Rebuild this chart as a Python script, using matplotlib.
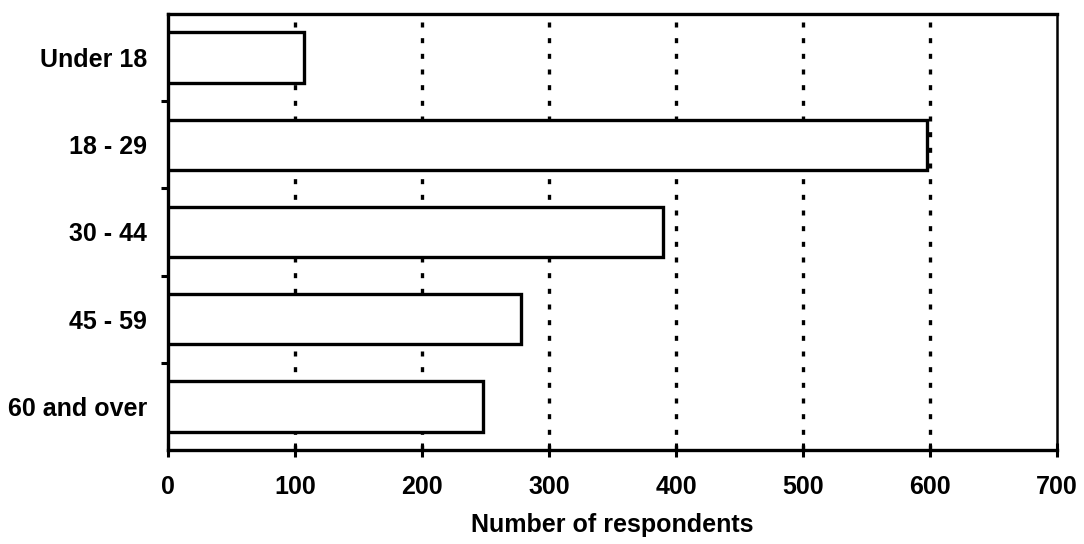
import matplotlib
matplotlib.use("Agg")
import matplotlib.pyplot as plt
from matplotlib.ticker import FixedLocator, NullFormatter

categories = ["Under 18", "18 - 29", "30 - 44", "45 - 59", "60 and over"]
values = [107, 598, 390, 278, 248]
x_ticks = [0, 100, 200, 300, 400, 500, 600, 700]
x_label = "Number of respondents"

plt.rcParams['font.family'] = ['Liberation Sans', 'DejaVu Sans']
plt.rcParams['font.weight'] = 'bold'
FS = 18

fig = plt.figure(figsize=(10.84, 5.44), dpi=100)
ax = fig.add_axes([168/1084, 1-450/544, (1057-168)/1084, (450-14)/544])

pos = list(range(len(categories)))
ax.barh(pos, values, height=0.58, color='white', edgecolor='black',
        linewidth=2.4, zorder=3)

ax.set_xlim(x_ticks[0], x_ticks[-1])
ax.set_ylim(len(categories) - 0.5, -0.5)

# dotted vertical gridlines
for xv in x_ticks[1:-1]:
    ax.axvline(xv, color='black', linewidth=2.4, linestyle=(0, (1.5, 3.2)), zorder=1)

ax.set_xticks(x_ticks)
ax.set_xticklabels([str(v) for v in x_ticks], fontsize=FS, fontweight='bold')
ax.tick_params(axis='x', direction='inout', length=10, width=2.2, pad=13)

ax.yaxis.set_major_locator(FixedLocator([p + 0.5 for p in pos[:-1]]))
ax.yaxis.set_major_formatter(NullFormatter())
ax.yaxis.set_minor_locator(FixedLocator(pos))
ax.set_yticks(pos, minor=True)
ax.set_yticklabels(categories, minor=True, fontsize=FS, fontweight='bold')
ax.tick_params(axis='y', which='major', direction='out', length=5, width=2.2)
ax.tick_params(axis='y', which='minor', length=0, pad=15)

for s in ['left', 'bottom', 'top']:
    ax.spines[s].set_linewidth(2.4)
ax.spines['right'].set_linewidth(1.8)

ax.set_xlabel(x_label, fontsize=FS, fontweight='bold', labelpad=10)

fig.savefig("out.png", dpi=100)
